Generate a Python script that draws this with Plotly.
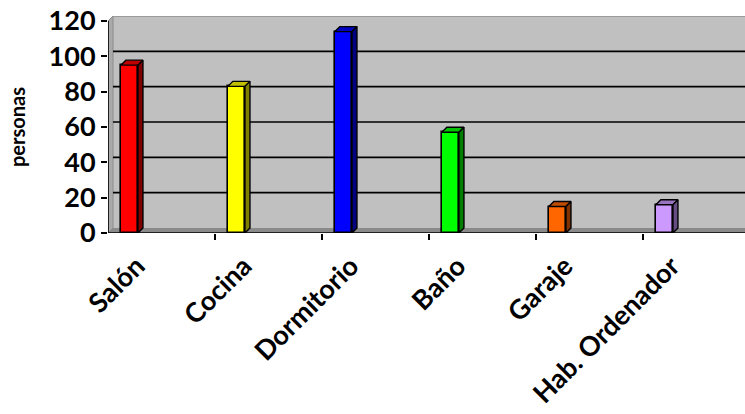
import plotly.graph_objects as go

# Rooms and number of people per room
rooms = ["Salón", "Cocina", "Dormitorio", "Baño", "Garaje", "Hab. Ordenador"]
people = [95, 83, 114, 57, 15, 16]
front_colors = ["#ff0000", "#ffff00", "#0000ff", "#00ff00", "#ff6600", "#cc99ff"]
top_colors = ["#c00000", "#c0c000", "#0000c0", "#00c000", "#c04c00", "#9973bf"]
side_colors = ["#800000", "#808000", "#000080", "#008000", "#803300", "#664c80"]
y_ticks = [0, 20, 40, 60, 80, 100, 120]

W, H = 745, 414
ML, MT, MB = 108, 16, 181
px_per_cat = 107.0
px_per_unit = 212.0 / 120.0
x_max = (W - ML) / px_per_cat
y_top = (H - MT - MB) / px_per_unit

# oblique depth of the 3D box
DX = 5 / px_per_cat
DY = 5 / px_per_unit
bar_w = 0.16
bar_off = 0.2
label_off = 0.27

fig = go.Figure()

# front faces of the columns
xs = [i + bar_off for i in range(len(rooms))]
fig.add_trace(go.Bar(
    x=xs, y=people, width=bar_w,
    marker=dict(color=front_colors, line=dict(color="black", width=1.6)),
    hoverinfo="skip", showlegend=False,
))

# top and side faces
for x, v, tc, sc in zip(xs, people, top_colors, side_colors):
    x0, x1 = x - bar_w / 2, x + bar_w / 2
    fig.add_trace(go.Scatter(
        x=[x0, x1, x1 + DX, x0 + DX, x0], y=[v, v, v + DY, v + DY, v],
        fill="toself", fillcolor=tc, mode="lines",
        line=dict(color="black", width=1.4), hoverinfo="skip", showlegend=False,
    ))
    fig.add_trace(go.Scatter(
        x=[x1, x1, x1 + DX, x1 + DX, x1], y=[0, v, v + DY, DY, 0],
        fill="toself", fillcolor=sc, mode="lines",
        line=dict(color="black", width=1.4), hoverinfo="skip", showlegend=False,
    ))

# category labels carried by an overlaying axis
fig.add_trace(go.Scatter(x=[0], y=[0], xaxis="x2", mode="markers",
                         marker=dict(opacity=0), hoverinfo="skip", showlegend=False))

shapes = []
# back wall
shapes.append(dict(type="rect", layer="below", xref="x", yref="y",
                   x0=DX, x1=x_max + 1, y0=DY, y1=120 + DY,
                   fillcolor="#c0c0c0", line=dict(width=0)))
# side wall
shapes.append(dict(type="path", layer="below", xref="x", yref="y",
                   path=f"M0,0 L0,120 L{DX},{120 + DY} L{DX},{DY} Z",
                   fillcolor="#a9a9a9", line=dict(color="#8c8c8c", width=1)))
# floor
shapes.append(dict(type="path", layer="below", xref="x", yref="y",
                   path=f"M0,0 L{x_max + 1},0 L{x_max + 1},{DY} L{DX},{DY} Z",
                   fillcolor="#8a8a8a", line=dict(width=0)))
# wall top edge
shapes.append(dict(type="line", layer="below", xref="x", yref="y",
                   x0=DX, x1=x_max + 1, y0=120 + DY, y1=120 + DY,
                   line=dict(color="#9a9a9a", width=2)))
# gridlines on the back wall
for v in y_ticks[1:-1]:
    shapes.append(dict(type="line", layer="below", xref="x", yref="y",
                       x0=DX, x1=x_max + 1, y0=v + DY, y1=v + DY,
                       line=dict(color="black", width=1.6)))
# axis lines
shapes.append(dict(type="line", layer="above", xref="x", yref="y",
                   x0=0, x1=0, y0=0, y1=120, line=dict(color="black", width=1.6)))
shapes.append(dict(type="line", layer="above", xref="x", yref="y",
                   x0=0, x1=x_max + 1, y0=0, y1=0, line=dict(color="black", width=1.6)))

fig.update_layout(
    width=W, height=H,
    margin=dict(l=ML, r=0, t=MT, b=MB, pad=0),
    paper_bgcolor="white", plot_bgcolor="white",
    font=dict(family="Lato", color="black"),
    bargap=0,
    shapes=shapes,
    xaxis=dict(range=[0, x_max], showgrid=False, zeroline=False, showline=False,
               tickmode="array", tickvals=list(range(1, len(rooms) + 1)),
               ticktext=[""] * len(rooms), ticks="outside", ticklen=6,
               tickwidth=1.5, tickcolor="black"),
    xaxis2=dict(range=[0, x_max], overlaying="x", side="bottom", anchor="y",
                showgrid=False, zeroline=False, showline=False,
                tickmode="array", tickvals=[i + label_off for i in range(len(rooms))],
                ticktext=rooms, tickangle=-45, ticks="", ticklabelstandoff=11,
                tickfont=dict(family="Lato", size=27, weight="bold", color="black")),
    yaxis=dict(range=[0, y_top], showgrid=False, zeroline=False, showline=False,
               tickmode="array", tickvals=y_ticks, ticks="outside", ticklen=6,
               tickwidth=1.5, tickcolor="black",
               tickfont=dict(family="Lato", size=27, weight="bold", color="black")),
    annotations=[dict(text="<b>personas</b>", xref="paper", yref="y",
                      x=(17 - ML) / (W - ML), y=60, xanchor="center", yanchor="middle",
                      textangle=-90, showarrow=False,
                      font=dict(family="Lato", size=20, color="black"))],
)

fig.write_html("out.html")
